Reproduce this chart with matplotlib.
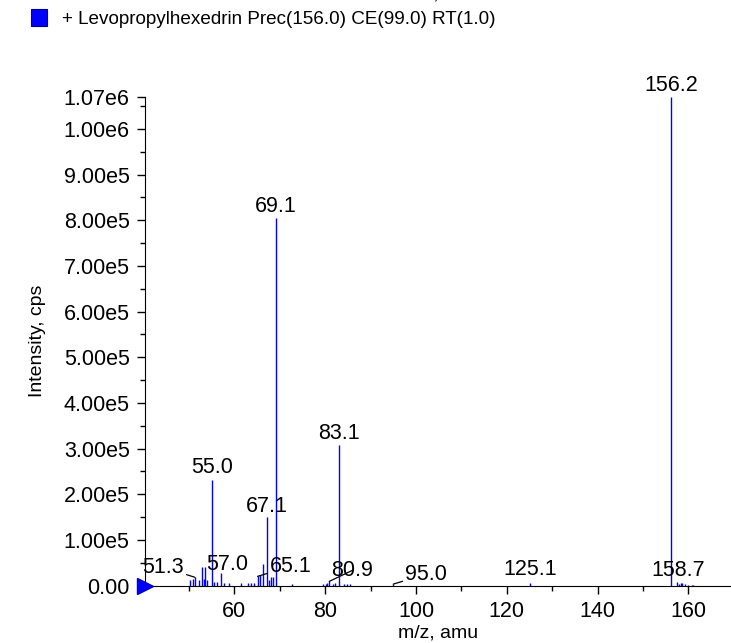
import matplotlib
matplotlib.use("Agg")
from matplotlib import pyplot as plt
from matplotlib.ticker import MultipleLocator

plt.rcParams['font.family'] = ['Liberation Sans', 'DejaVu Sans']

# peak list (m/z, intensity in cps)
mz = [50.3, 50.9, 51.3, 52.1, 52.8, 53.2, 53.6, 53.9, 55.0, 55.4, 56.1, 57.0,
      57.6, 58.7, 61.4, 63.0, 63.6, 64.3, 65.1, 65.6, 66.3, 67.1, 67.6, 68.1,
      68.4, 69.1, 72.7, 79.5, 80.1, 80.5, 80.9, 81.7, 82.2, 83.1, 84.2, 84.8,
      85.4, 95.0, 125.1, 156.2, 157.6, 158.0, 158.4, 158.7, 159.3, 160.0,
      160.7, 161.0]
intensity = [1.1e4, 1.5e4, 1.8e4, 1.3e4, 4.0e4, 1.5e4, 4.0e4, 1.1e4, 2.30e5,
             7e3, 7e3, 2.8e4, 5e3, 5e3, 5e3, 5e3, 6e3, 5e3, 2.0e4, 2.4e4,
             4.6e4, 1.50e5, 1.1e4, 1.8e4, 1.8e4, 8.05e5, 4e3, 3e3, 4e3, 5e3,
             9e3, 4e3, 6e3, 3.07e5, 4e3, 4e3, 3e3, 3e3, 5e3, 1.07e6, 7e3, 4e3,
             5e3, 5e3, 3e3, 2e3, 2e3, 2e3]

# labelled peaks and where their text sits relative to the peak top (pixels)
label_mz = [156.2, 69.1, 83.1, 55.0, 67.1, 57.0, 125.1, 158.7, 51.3, 65.1, 80.9, 95.0]
label_off = [(0, 1), (0, 1), (0, 1), (0, 2), (0, 0), (6, -2), (0, 3), (-4, 2),
             (-32, 10), (33, 10), (23, 11), (33, 10)]
leader = [False] * 8 + [True] * 4

y_ticks = [0, 1e5, 2e5, 3e5, 4e5, 5e5, 6e5, 7e5, 8e5, 9e5, 1e6, 1.07e6]
y_labels = ['0.00', '1.00e5', '2.00e5', '3.00e5', '4.00e5', '5.00e5', '6.00e5',
            '7.00e5', '8.00e5', '9.00e5', '1.00e6', '1.07e6']

fs = 15.5
fig = plt.figure(figsize=(7.31, 6.43), dpi=100)
ax = fig.add_axes([145 / 731, 1 - 585.5 / 643, 1 - 145 / 731, (585.5 - 97) / 643])

ax.vlines(mz, 0, intensity, color='#0000ff', lw=1)
ax.set_xlim(40.3, 169.4)
ax.set_ylim(0, 1.07e6)

for x, (dx, dy), lead in zip(label_mz, label_off, leader):
    y = intensity[mz.index(x)]
    if lead:
        ax.annotate(f'{x:.1f}', xy=(x, y), xytext=(dx, dy), textcoords='offset pixels',
                    ha='center', va='center', fontsize=fs,
                    arrowprops=dict(arrowstyle='-', lw=0.9, color='black',
                                    shrinkA=0, shrinkB=0))
    else:
        ax.annotate(f'{x:.1f}', xy=(x, y), xytext=(dx, dy), textcoords='offset pixels',
                    ha='center', va='bottom', fontsize=fs)

# little blue pointer at the origin
ax.plot([ax.get_xlim()[0]], [0], marker='>', color='#0000ff', markersize=11,
        markeredgecolor='#0000cc', clip_on=False, zorder=5)

ax.set_yticks(y_ticks)
ax.set_yticklabels(y_labels)
ax.yaxis.set_minor_locator(MultipleLocator(5e4))
ax.xaxis.set_major_locator(MultipleLocator(20))
ax.xaxis.set_minor_locator(MultipleLocator(10))
ax.tick_params(which='major', length=6, width=1, labelsize=fs, pad=5)
ax.tick_params(which='minor', length=3.5, width=1)

for s in ['top', 'right']:
    ax.spines[s].set_visible(False)

ax.set_xlabel('m/z, amu', fontsize=14, labelpad=2)
ax.set_ylabel('Intensity, cps', fontsize=14, labelpad=13)

# legend line at the top, and the previous panel's axis title peeking in
fig.patches.append(plt.Rectangle((31 / 731, 1 - 26 / 643), 16 / 731, 17 / 643,
                                 transform=fig.transFigure, facecolor='#0000ff',
                                 edgecolor='#000080', lw=0.8))
fig.text(62 / 731, 1 - 19 / 643, '+ Levopropylhexedrin Prec(156.0) CE(99.0) RT(1.0)',
         fontsize=13.6, va='center', ha='left')
fig.text(442 / 731, 1 + 6 / 643, 'm/z, amu', fontsize=14, va='center', ha='center')

fig.savefig('out.png', dpi=100)
